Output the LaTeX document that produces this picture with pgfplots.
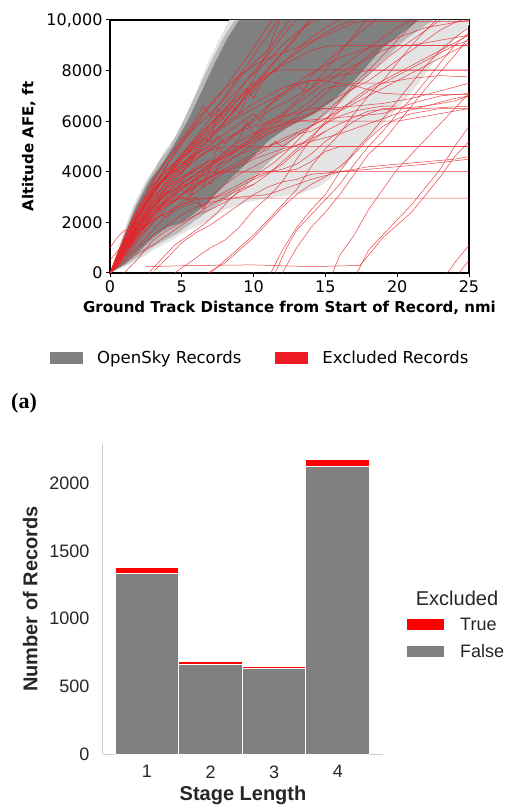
\documentclass[border=0pt]{standalone}
\usepackage{pgfplots}
\pgfplotsset{compat=1.18}
\usepackage{fontspec}
\setmainfont{DejaVu Sans}
\newfontfamily\arialf{Liberation Sans}
\newfontfamily\serf{Liberation Serif}
\definecolor{redA}{HTML}{ED1C24}
\definecolor{lineR}{HTML}{E8232A}
\definecolor{grayC}{HTML}{808080}
\definecolor{grayM}{HTML}{BABABA}
\definecolor{grayL}{HTML}{E4E4E4}
\definecolor{spine}{HTML}{CCCCCC}
\definecolor{txt}{HTML}{262626}
\pgfplotsset{rl/.style={lineR, line width=0.5pt, opacity=0.85, forget plot}}
\begin{document}
\begin{tikzpicture}[x=1pt,y=1pt]
\useasboundingbox (0,0) rectangle (521,807);
\begin{axis}[
  at={(110pt,534pt)}, anchor=south west, scale only axis,
  width=359pt, height=253pt,
  xmin=0, xmax=25, ymin=0, ymax=10000,
  scaled ticks=false,
  xtick={0,5,10,15,20,25}, xticklabels={0,5,10,15,20,25},
  ytick={0,2000,4000,6000,8000,10000}, yticklabels={0,2000,4000,6000,8000,{10,000}},
  /pgf/number format/assume math mode=true,
  tick align=outside, tick pos=left, major tick length=4pt,
  axis line style={line width=1.3pt},
  every tick/.style={black, line width=1pt},
  tick label style={font=\fontsize{16}{18}\selectfont},
  xlabel={Ground Track Distance from Start of Record, nmi},
  ylabel={Altitude AFE, ft},
  label style={font=\bfseries\fontsize{15}{18}\selectfont},
  xlabel style={at={(axis description cs:0.5,-0.138)}, anchor=center},
  ylabel style={at={(axis description cs:-0.226,0.5)}, anchor=center},
  legend columns=2,
  legend image code/.code={\fill[#1] (0pt,-6pt) rectangle (33pt,6pt);},
  legend style={at={(-0.167,-0.336)}, anchor=west, draw=none, fill=none,
    inner sep=0pt, nodes={inner sep=0pt, font=\fontsize{16.5}{18}\selectfont},
    /tikz/every odd column/.append style={column sep=14pt},
    /tikz/every even column/.append style={column sep=34pt}},
  legend cell align=left,
]
% light envelope
\addplot[fill=grayL, draw=none, forget plot] coordinates {
(0,0)(0.5,800)(0.93,1580)(1.6,2640)(2.5,3650)(3.2,4200)(3.7,4750)(4.9,5670)(5.8,6850)(6.7,8170)(7.6,9230)(8.3,10000)
(25,10000)(25,9800)(24.5,9500)(23.5,8900)(22.5,8300)(21.5,7500)(20.5,6800)(19.5,6200)(18.5,5600)(17.4,5000)(16.5,4300)(15.5,3800)(14.5,3400)(13.4,3160)(11,2950)(9.5,2800)(8,2500)(6.6,1980)(5.5,1700)(4.3,1300)(3,900)(2.5,700)(1.5,400)(0,0)} \closedcycle;
% middle band
\addplot[fill=grayM, draw=none, forget plot] coordinates {
(0,0)(0.55,800)(1.0,1600)(1.7,2620)(2.6,3620)(3.4,4400)(4.2,5000)(5.1,6000)(6.0,7100)(7.0,8300)(7.9,9300)(8.7,10000)
(22.5,10000)(22,9800)(20.5,9200)(19,8400)(17.5,7600)(16,6700)(14.5,6000)(13,5400)(11.5,4600)(10,3800)(8.5,3100)(7,2500)(6,2100)(4.8,1600)(3.5,1200)(2.3,780)(1.2,350)(0,0)} \closedcycle;
% dark core
\addplot[fill=grayC, draw=none, forget plot] coordinates {
(0,0)(0.6,800)(1.1,1600)(1.8,2600)(2.7,3600)(3.6,4300)(4.4,5000)(5.4,6000)(6.4,7200)(7.3,8300)(8.2,9300)(9.0,10000)
(21.5,10000)(19,8900)(17,7600)(15.5,6800)(14.1,6250)(12.5,5800)(11.1,5260)(9.75,4470)(8,3500)(7,2900)(6,2400)(5,2000)(4,1800)(3,1400)(2,850)(1,350)(0,0)} \closedcycle;
% red (excluded) records
\addplot[rl] coordinates {(0,0)(0.5,500)(1,1000)(1.5,1500)(2,2000)(2.5,2500)(3,3000)(3.5,3300)(4,3600)(5,4200)(6,4800)(7,5400)(8,6000)(9,6700)(10,7300)(11,8000)(12,8700)(13,9400)(14,10000)};
\addplot[rl] coordinates {(0,0)(0.5,700)(1,1300)(1.5,1900)(2,2400)(3,3300)(4,3900)(5,4500)(6,5000)(6.5,5300)(7,5200)(7.5,6500)(8,6000)(8.5,6300)(9,6600)(10,7700)(11,8800)(11.8,10000)};
\addplot[rl] coordinates {(0,0)(1,700)(2,1500)(3,2300)(4,3000)(5,3500)(6,3900)(7,4200)(8,4600)(9,5000)(10,5400)(11,5900)(12,6300)(13,6800)(14,7300)(15,7700)(16,8100)(17,8500)(18,8900)(19,9300)(20,9700)(21,10000)};
\addplot[rl] coordinates {(0,0)(1,900)(2,1900)(3,2800)(4,3400)(5,3800)(6,4000)(7,4000)(25,4010)};
\addplot[rl] coordinates {(0,0)(1,800)(2,1600)(3,2300)(4,2800)(5,2950)(6,2960)(25,2960)};
\addplot[rl] coordinates {(0,0)(1,1000)(2,2000)(3,2900)(4,3600)(5,4200)(6,4600)(7,4850)(8,4980)(9,5000)(25,5000)};
\addplot[rl] coordinates {(0,0)(1,1100)(2,2100)(3,3100)(4,3900)(5,4600)(6,5300)(7,5900)(8,6500)(9,7000)(10,7500)(11,7900)(12,8030)(25,8030)};
\addplot[rl] coordinates {(0,0)(1,1200)(2,2300)(3,3200)(4,4000)(5,4700)(6,5300)(7,5900)(8,6400)(9,6900)(10,7400)(11,7800)(12,8200)(13,8500)(14,8800)(15,8950)(16,9000)(25,9000)};
\addplot[rl] coordinates {(0,0)(1,900)(2,1800)(3,2700)(4,3400)(5,4000)(6,4500)(7,4900)(8,5300)(9,5600)(10,5800)(11,5950)(12,6000)(20,6000)(21,6100)(23,6300)(25,6500)};
\addplot[rl] coordinates {(0,0)(1,600)(2,1300)(3,2000)(4,2600)(5,3100)(6,3500)(7,3800)(8,4100)(9,4400)(10,4700)(11,5000)(12,5300)(14,5800)(16,6400)(18,7000)(20,7600)(22,8200)(24,8800)(25,9100)};
\addplot[rl] coordinates {(0,0)(1,1300)(2,2500)(3,3600)(4,4500)(5,5300)(6,6100)(6.5,6600)(7,6200)(8,7000)(9,7800)(10,8600)(11,9400)(11.7,10000)};
\addplot[rl] coordinates {(0,0)(1,900)(2,1800)(3,2600)(4,3200)(5,3700)(6,4200)(7,4400)(8,4600)(9,4900)(10,5300)(11,5700)(12,6100)(13,6400)(14,6800)(15,7300)(17,7500)(19,7500)(21,7700)(23,7800)(25,7750)};
\addplot[rl] coordinates {(0,0)(1,1000)(2,1900)(3,2700)(4,3400)(5,4000)(6,4500)(7,4900)(8,5200)(9,5600)(10,6100)(11,6600)(12,7000)(13,7400)(14,7600)(15,7600)(17,7400)(19,7100)(21,7050)(25,7050)};
\addplot[rl] coordinates {(0,0)(1,1100)(2,2100)(3,3100)(4,3900)(5,4700)(6,5400)(7,6100)(8,6700)(9,7300)(10,7900)(11,8400)(12,9000)(13,9500)(14,9900)(14.5,10000)};
\addplot[rl] coordinates {(0,0)(0.7,900)(1.5,1800)(2.5,2700)(3.5,3500)(4.5,4200)(5.5,4800)(6.5,5500)(7.5,6100)(8.5,6800)(9.5,7600)(10.5,8300)(11.5,9000)(12.5,9700)(13,10000)};
\addplot[rl] coordinates {(0,0)(1,800)(2,1700)(3,2500)(4,3200)(5,3400)(6,3700)(6.5,3400)(7,4200)(7.5,5000)(8,4700)(9,5300)(9.5,6000)(10,5500)(11,6000)(12,6200)(13,6300)(14,6500)(15,6500)(16,6450)};
\addplot[rl] coordinates {(0,1000)(0.5,1400)(1,1700)(1.5,1600)(2,1800)(3,2600)(4,3300)(5,3800)(6,4100)(7,4300)(8,4800)(9,5200)(10,5500)(11,5700)(13,6000)(15,6100)(17,6200)(19,6300)(21,6700)(23,7000)(25,7100)};
\addplot[rl] coordinates {(0,0)(1,800)(2,1500)(3,2100)(4,2400)(5,2700)(6,3000)(6.5,2500)(7,3000)(8,3500)(9,3900)(10,4200)(12,4800)(14,5300)(16,5900)(18,6400)(20,6500)(22,6500)(25,6600)};
\addplot[rl] coordinates {(0,0)(1,500)(2,1000)(3,1500)(4,1900)(5,2300)(6,2600)(7,2800)(8,2900)(9,3000)(10,3050)(11,3100)(12,3300)(14,3700)(16,4000)(18,4200)(20,4300)(22,4400)(24,4500)(25,4600)};
\addplot[rl] coordinates {(0,0)(1,400)(2,800)(3,1100)(4,1500)(5,1900)(6,2300)(7,2700)(8,3000)(9,3300)(10,3500)(11,3900)(12,4400)(13,4900)(14,5400)(15,5900)(16,6400)(17,6900)(18,7300)(19,7600)(20,7900)(22,8500)(24,9100)(25,9400)};
\addplot[rl] coordinates {(0,0)(1,1200)(2,2300)(3,3200)(4,3800)(5,4300)(6,4700)(7,5000)(7.5,5400)(8,5100)(9,5600)(10,6000)(11,6400)(12,6700)(13,7000)(14,7300)(15,8000)(16,8700)(17,9400)(17.8,10000)};
\addplot[rl] coordinates {(0,0)(1,1000)(2,2000)(3,2800)(4,3500)(5,4100)(6,4700)(7,5300)(8,6000)(9,6700)(10,7400)(11,8100)(12,8700)(13,9300)(13.8,10000)};
\addplot[rl] coordinates {(0,0)(1,1300)(2,2600)(3,3700)(4,4500)(5,5200)(6,5800)(7,6300)(8,6900)(9,7700)(10,8300)(11,8800)(12,9600)(12.5,10000)};
\addplot[rl] coordinates {(0,0)(1,900)(2,1700)(3,2400)(4,3000)(5,3500)(6,3900)(7,4300)(8,4600)(9,4900)(10,5200)(11,5500)(12,5700)(13,6000)(14,6300)(15,6700)(16,7000)(17,7300)(18,7600)(19,8000)(20,8400)(21,8800)(22,9200)(23,9600)(24,9900)(24.5,10000)};
\addplot[rl] coordinates {(0,0)(1,1100)(2,2200)(3,3300)(4,4300)(5,5200)(6,6000)(7,6700)(8,7300)(9,7800)(10,8200)(11,8500)(13,8900)(15,9400)(17,9900)(18,9950)(25,9950)};
\addplot[rl] coordinates {(0,500)(1,1200)(2,1700)(3,2100)(4,2400)(5,2700)(6,2900)(7,2950)(8,3100)(9,3400)(10,3700)(11,3950)(12,4300)(13,4800)(14,5200)(15,5600)};
\addplot[rl] coordinates {(0,0)(0.8,1000)(1.6,1900)(2.4,2700)(3.2,3300)(4,3800)(4.5,4100)(5,3900)(5.5,4400)(6,4700)(7,5100)(8,5500)(9,5900)(10,6300)(10.5,6000)(11,6600)(12,7100)(13,7500)(13.5,7200)(14,7800)(15,8300)(16,8800)(17,9300)(18,9800)(18.5,10000)};
\addplot[rl] coordinates {(0,0)(1,1100)(2,2000)(2.5,2400)(3,2600)(3.5,3000)(4,3200)(4.5,3100)(5,3600)(6,3900)(7,4300)(8,4700)(9,5000)(10,5400)(11,5800)(12,6200)(13,6700)(14,7100)(15,7500)(16,7900)(17,8200)(18,8500)(19,8800)(20,9000)(21,9000)(22,9100)(25,9400)};
\addplot[rl] coordinates {(0,0)(1,1000)(2,1900)(3,2600)(4,3100)(5,3600)(5.5,3300)(6,3800)(7,4100)(8,4400)(9,4700)(10,4900)(11,5000)(12,5200)(13,5500)(14,5600)(15,5900)(16,6200)(17,6400)(18,6500)(19,6600)(20,6600)};
\addplot[rl] coordinates {(0,0)(0.5,600)(1,1200)(2,2300)(3,3400)(4,4300)(5,5100)(6,5900)(7,6600)(8,7300)(9,8100)(10,8900)(10.8,9600)(11.3,10000)};
\addplot[rl] coordinates {(0,0)(1,700)(2,1400)(3,2000)(3.5,2300)(4,2200)(4.5,2600)(5,2800)(6,3200)(7,3600)(8,4000)(9,4300)(10,4600)(11,4900)(11.5,5200)(12,5000)(13,5400)(14,5800)(15,6100)(16,6500)(17,6800)(18,7200)(20,7800)(22,8400)(24,9000)(25,9200)};
\addplot[rl] coordinates {(0,0)(1,1200)(2,2400)(3,3400)(4,4100)(5,4600)(6,5000)(7,5500)(8,5900)(9,6300)(10,6700)(11,7000)(12,7300)(13,7500)(14,7600)(15,7700)(16,7800)(17,7900)(18,8000)(25,8000)};
\addplot[rl] coordinates {(0,0)(1,800)(2,1600)(2.5,1900)(3,2200)(4,2700)(5,3100)(6,3600)(6.5,3900)(7,3500)(7.5,4200)(8,4500)(9,4900)(10,5300)(11,5600)(12,5900)(13,6100)(14,6300)(15,6500)(17,6600)(19,6700)(21,6900)(23,7200)(25,7500)};
\addplot[rl] coordinates {(0,0)(1,900)(2,1900)(3,2900)(4,3700)(5,4300)(6,4900)(7,5600)(8,6200)(9,6900)(9.5,7300)(10,6900)(10.5,7500)(11,7800)(12,8300)(13,8800)(14,9300)(15,9700)(16,10000)};
\addplot[rl] coordinates {(0,0)(1,1000)(2,1800)(3,2500)(4,2900)(5,3100)(6,3400)(7,3800)(8,4000)(9,4200)(10,4500)(11,4700)(12,4900)(14,5200)(16,5500)(18,5900)(20,6300)(22,6600)(24,6900)(25,7000)};
\addplot[rl] coordinates {(0,0)(0.7,800)(1.4,1600)(2.1,2300)(2.8,3000)(3.5,3600)(4.2,4000)(5,4400)(5.5,4200)(6,4800)(7,5400)(8,5800)(9,6200)(10,6500)(11,6800)(12,7100)(13,7500)(14,7900)(15,8200)(16,8500)(17,8700)(18,8900)(19,9000)(25,9000)};
\addplot[rl] coordinates {(0,0)(1,600)(2,1100)(3,1700)(4,2300)(5,2600)(6,2800)(6.5,2600)(7,2900)(8,3200)(9,3500)(10,3800)(11,4000)(12,4100)(13,4300)(14,4700)(15,5200)(16,5600)(17,6000)(18,6300)(19,6500)(20,6500)(22,6600)(24,6800)(25,7000)};
\addplot[rl] coordinates {(0,0)(1,1300)(2,2400)(3,3200)(4,3900)(5,4500)(6,5100)(7,5700)(8,6300)(8.5,6600)(9,6300)(9.5,6900)(10,7200)(11,7800)(12,8300)(13,8700)(14,9100)(15,9500)(16,9800)(17,10000)};
\addplot[rl] coordinates {(0,0)(1,900)(2,1600)(3,2300)(4,2800)(5,3300)(6,3700)(7,4000)(8,4000)(12,4000)(13,4100)(14,4400)(15,4800)(16,5000)(25,5000)};
\addplot[rl] coordinates {(0,0)(0.5,300)(1,700)(2,1500)(3,2200)(4,2700)(5,3000)(5.5,2900)(6,3500)(7,3900)(8,4300)(9,4700)(10,5100)(11,5500)(12,5800)(13,6200)(14,6600)(15,7100)(16,7600)(17,8100)(18,8600)(19,9000)(20,9300)(22,9700)(24,9900)(25,10000)};
% short dense records near the start
\addplot[rl] coordinates {(0,0)(0.6,900)(1.2,1700)(1.8,2400)(2.4,2900)(3,3300)(3.6,3600)(4.2,3900)(4.8,4200)(5.4,4500)(6,4800)};
\addplot[rl] coordinates {(0,0)(0.8,700)(1.6,1400)(2.4,2000)(3.2,2500)(4,2900)(4.8,3300)(5.6,3600)(6.4,3900)(7.2,4300)(8,4600)};
\addplot[rl] coordinates {(0,0)(0.4,600)(0.9,1300)(1.5,2100)(2.2,2800)(3,3500)(3.8,4000)(4.6,4400)(5.5,4900)(6.5,5500)};
\addplot[rl] coordinates {(0,0)(0.7,500)(1.4,1100)(2.1,1700)(2.8,2200)(3.5,2600)(4.2,3000)(5,3300)(5.5,3100)(6,3500)(7,3800)(8,4100)};
\addplot[rl] coordinates {(0,0)(0.5,400)(1,900)(1.5,1400)(2,1800)(2.5,2200)(3,2600)(3.5,2900)(4,3200)(5,3700)(6,4100)(7,4500)};
% late-starting records
\addplot[rl] coordinates {(2.7,0)(3.5,500)(4.5,1100)(5.5,1500)(6.5,1900)(7.5,2400)(8.5,3000)(9.5,3500)(10.5,4000)(11.5,4400)(12.5,4900)(13.5,5500)(14.5,6100)(15.5,6600)(16.5,7100)(17.5,7600)(18.5,8100)(19.5,8600)(20.5,9000)(21.5,9400)(22.5,9800)(23,10000)};
\addplot[rl] coordinates {(4.5,0)(6,600)(7,1000)(8,1300)(9,1800)(10,2500)(11,3000)(12,3600)(13,4500)(14,5300)(15,6000)(16,6800)(17,7500)(18,8000)(19,8600)(20,9200)(21,9800)(21.3,10000)};
\addplot[rl] coordinates {(7,0)(8,500)(9,1000)(10,1500)(11,2100)(12,2700)(13,3300)(14,4200)(15,4900)(16,5500)(17,6300)(18,7000)(19,7600)(20,8300)(21,9000)(22,9600)(22.7,10000)};
\addplot[rl] coordinates {(11.2,0)(12,900)(13,1800)(14,2500)(15,3100)(16,4000)(17,4800)(18,5400)(19,6100)(20,6800)(21,7500)(22,8200)(23,8800)(24,9300)(25,9700)};
\addplot[rl] coordinates {(11.5,0)(12.3,1000)(13,1700)(14,2300)(15,2900)(16,3500)(17,4300)(18,5000)(19,5600)(20,6300)(21,6900)(22,7600)(23,8300)(24,9000)(25,9500)};
\addplot[rl] coordinates {(12,0)(13,1000)(14,1800)(15,2400)(16,3100)(17,3900)(18,4700)(19,5200)(20,5900)(22,7300)(24,8600)(25,9300)};
\addplot[rl] coordinates {(15.5,0)(16,700)(17,1500)(18,2500)(19,3300)(20,4100)(21,4700)(22,5300)(23,5900)(24,6500)(25,7100)};
\addplot[rl] coordinates {(17.2,0)(18,900)(19,1500)(20,2100)(21,2700)(22,3400)(23,4100)(24,5000)(25,5800)};
\addplot[rl] coordinates {(2.5,250)(6,300)(10,320)(14,250)(17.4,300)(18,700)(19,1400)(20,1900)(21,2400)(22,3100)(23,3800)(24,4600)(25,5200)};
\addplot[rl] coordinates {(23.5,0)(24,400)(25,1100)};
\addplot[rl] coordinates {(24.3,0)(25,500)};
\addplot[rl] coordinates {(6.8,0)(8,400)(9,900)(10,1400)(11,2000)(12,2600)(13,3100)(14,3500)(15,3800)(16,4200)(17,4700)(18,5300)(19,5800)(20,6100)(21,6300)(22,6400)(23,6500)(25,6500)};
\addplot[rl] coordinates {(3.1,100)(4,600)(5,1200)(6,1600)(7,1900)(8,2300)(9,2700)(10,3100)(11,3400)(12,3600)(13,3700)(14,3900)(16,4000)(18,4100)(20,4200)(22,4300)(25,4500)};
\addplot[rl] coordinates {(1,0)(2,600)(3,1300)(4,1700)(5,2000)(6,2300)(7,2500)(8,2800)(9,3200)(10,3500)};
% legend
\addlegendimage{fill=grayC, draw=none}
\addlegendentry{OpenSky Records}
\addlegendimage{fill=redA, draw=none}
\addlegendentry{Excluded Records}
\end{axis}

\node[anchor=west, font=\serf\bfseries\fontsize{22}{24}\selectfont, inner sep=0pt] at (11,404) {(a)};

\begin{axis}[
  at={(103pt,53pt)}, anchor=south west, scale only axis,
  width=280pt, height=310pt,
  xmin=0.31, xmax=4.71, ymin=0, ymax=2290,
  ybar stacked, bar width=1,
  scaled ticks=false,
  xtick={1,2,3,4}, ytick={0,500,1000,1500,2000},
  xticklabels={1,2,3,4}, yticklabels={0,500,1000,1500,2000},
  axis x line*=bottom, axis y line*=left,
  axis line style={-, spine, line width=1pt},
  major tick length=0pt,
  /pgf/number format/assume math mode=true,
  tick label style={font=\arialf\fontsize{18}{20}\selectfont, text=txt},
  xticklabel style={yshift=-8pt},
  yticklabel style={xshift=-10pt},
  xlabel={Stage Length}, ylabel={Number of Records},
  label style={font=\arialf\bfseries\fontsize{20}{22}\selectfont, text=txt},
  xlabel style={at={(axis description cs:0.5,-0.132)}, anchor=center},
  ylabel style={at={(axis description cs:-0.26,0.5)}, anchor=center},
  legend image code/.code={\fill[#1] (0pt,-5.5pt) rectangle (37pt,5.5pt);},
  legend style={at={(1.0857,0.44)}, anchor=north west, draw=none, fill=none,
    inner sep=0pt, row sep=13pt,
    nodes={inner sep=0pt, font=\arialf\fontsize{18}{20}\selectfont, text=txt},
    /tikz/every odd column/.append style={column sep=16pt}},
  legend cell align=left,
]
\addplot[fill=grayC, draw=white, line width=1pt, forget plot] coordinates {(1,1335)(2,658)(3,628)(4,2124)};
\addplot[fill=red, draw=white, line width=1pt, forget plot] coordinates {(1,42)(2,22)(3,15)(4,48)};
\addlegendimage{fill=red, draw=none}
\addlegendentry{True}
\addlegendimage{fill=grayC, draw=none}
\addlegendentry{False}
\end{axis}
\node[font=\arialf\fontsize{20}{22}\selectfont, text=txt] at (457,209) {Excluded};
\end{tikzpicture}
\end{document}
